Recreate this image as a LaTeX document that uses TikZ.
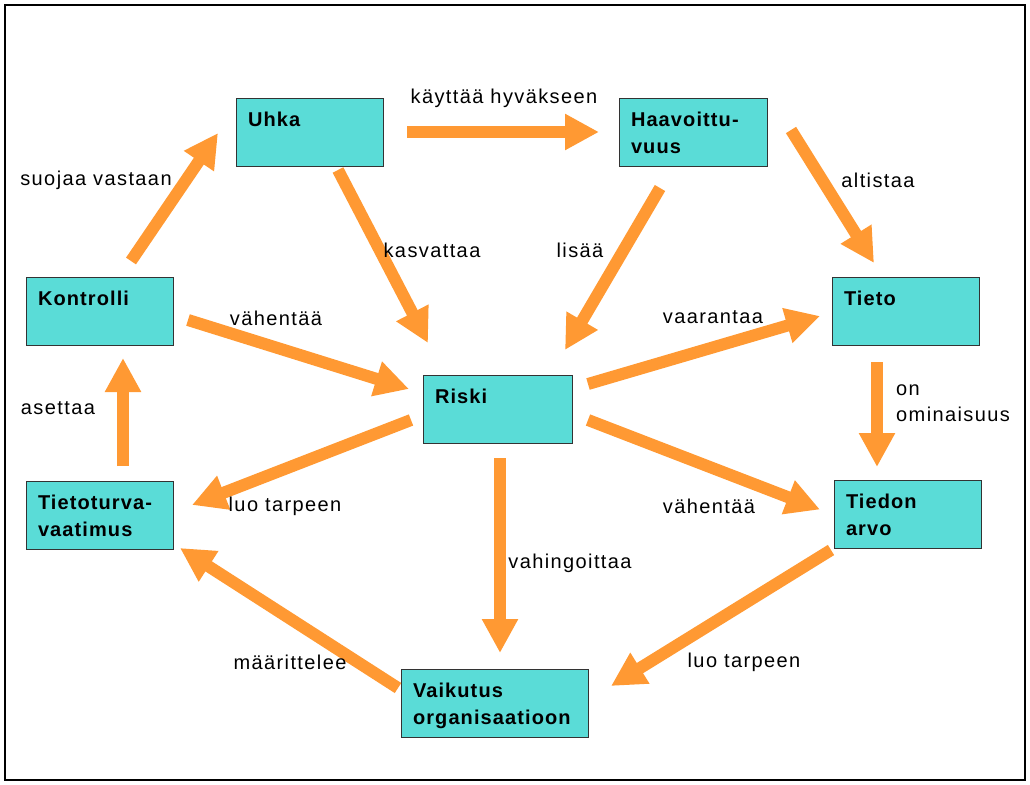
\documentclass[tikz,border=0pt]{standalone}
\usepackage{fontspec}
\setmainfont{Liberation Sans}[LetterSpace=7,BoldFeatures={LetterSpace=5.5}]
\usetikzlibrary{arrows.meta}
\definecolor{boxfill}{RGB}{90,220,215}
\definecolor{arrorange}{RGB}{255,153,51}
\newcommand{\boxtxt}[2]{\parbox[c][68pt][t]{#1}{\rule{0pt}{28pt}#2}}
\begin{document}
\begin{tikzpicture}[x=1pt,y=-1pt,
  box/.style={draw=black!80, line width=0.9pt, fill=boxfill, anchor=north west,
    inner xsep=12pt, inner ysep=0pt, outer sep=0pt,
    font=\bfseries\fontsize{20}{27}\selectfont},
  lbl/.style={font=\fontsize{20}{26}\selectfont, inner sep=0pt},
  arr/.style={draw=arrorange, line width=12pt, -{Triangle[length=34pt,width=34pt]}}]
\useasboundingbox (0,0) rectangle (1030,784);
\draw[line width=2.5pt] (5,5) rectangle (1025,780);
% boxes
\node[box] (uhka) at (236,98) {\boxtxt{123pt}{Uhka}};
\node[box] (haav) at (619,98) {\boxtxt{124pt}{Haavoittu-\\vuus}};
\node[box] (kontrolli) at (26,277) {\boxtxt{123pt}{Kontrolli}};
\node[box] (tieto) at (832,277) {\boxtxt{123pt}{Tieto}};
\node[box] (riski) at (423,375) {\boxtxt{125pt}{Riski}};
\node[box] (tietoturva) at (26,481) {\boxtxt{123pt}{Tietoturva-\\vaatimus}};
\node[box] (tiedon) at (834,480) {\boxtxt{123pt}{Tiedon\\arvo}};
\node[box] (vaikutus) at (401,669) {\boxtxt{163pt}{Vaikutus\\organisaatioon}};
% arrows
\draw[arr] ([shift={(24,0)}]uhka.east) -- ([shift={(-20,0)}]haav.west);
\draw[arr] ([shift={(31.5,-16)}]kontrolli.north) -- ([shift={(-18,-33)}]uhka.south west);
\draw[arr] ([shift={(28.5,4)}]uhka.south) -- ([shift={(5,-32)}]riski.north west);
\draw[arr] ([shift={(-33,22)}]haav.south) -- ([shift={(-7,-25)}]riski.north east);
\draw[arr] ([shift={(24,-2)}]haav.east) -- ([shift={(-31.5,-14)}]tieto.north);
\draw[arr] ([shift={(15,9)}]kontrolli.east) -- ([shift={(-14,-20)}]riski.west);
\draw[arr] ([shift={(16,-25)}]riski.east) -- ([shift={(-12,5)}]tieto.west);
\draw[arr] ([shift={(-28.5,17)}]tieto.south) -- ([shift={(-30.5,-13)}]tiedon.north);
\draw[arr] ([shift={(23.5,-15)}]tietoturva.north) -- ([shift={(23.5,13)}]kontrolli.south);
\draw[arr] ([shift={(-12,11)}]riski.west) -- ([shift={(19,-10)}]tietoturva.east);
\draw[arr] ([shift={(16,11)}]riski.east) -- ([shift={(-14,-4.5)}]tiedon.west);
\draw[arr] ([shift={(2.5,15)}]riski.south) -- ([shift={(5.5,-16)}]vaikutus.north);
\draw[arr] ([shift={(-3,2)}]tiedon.south west) -- ([shift={(23,-17)}]vaikutus.east);
\draw[arr] ([shift={(-3,-15)}]vaikutus.west) -- ([shift={(7,-1)}]tietoturva.south east);
% labels
\node[lbl] (l1) at (504,98) {käyttää hyväkseen};
\node[lbl] (l2) at (96,180) {suojaa vastaan};
\node[lbl] (l3) at (432,250) {kasvattaa};
\node[lbl] (l4) at (580,250) {lisää};
\node[lbl] (l5) at (878,180) {altistaa};
\node[lbl] (l6) at (276,318) {vähentää};
\node[lbl] (l7) at (713,317) {vaarantaa};
\node[lbl, align=left, anchor=west] (l8) at (896,403) {on\\ominaisuus};
\node[lbl] (l9) at (58,408) {asettaa};
\node[lbl] (l10) at (285,506) {luo tarpeen};
\node[lbl] (l11) at (709,506) {vähentää};
\node[lbl] (l12) at (570,563) {vahingoittaa};
\node[lbl] (l13) at (744,662) {luo tarpeen};
\node[lbl] (l14) at (290,662) {määrittelee};
\end{tikzpicture}
\end{document}
